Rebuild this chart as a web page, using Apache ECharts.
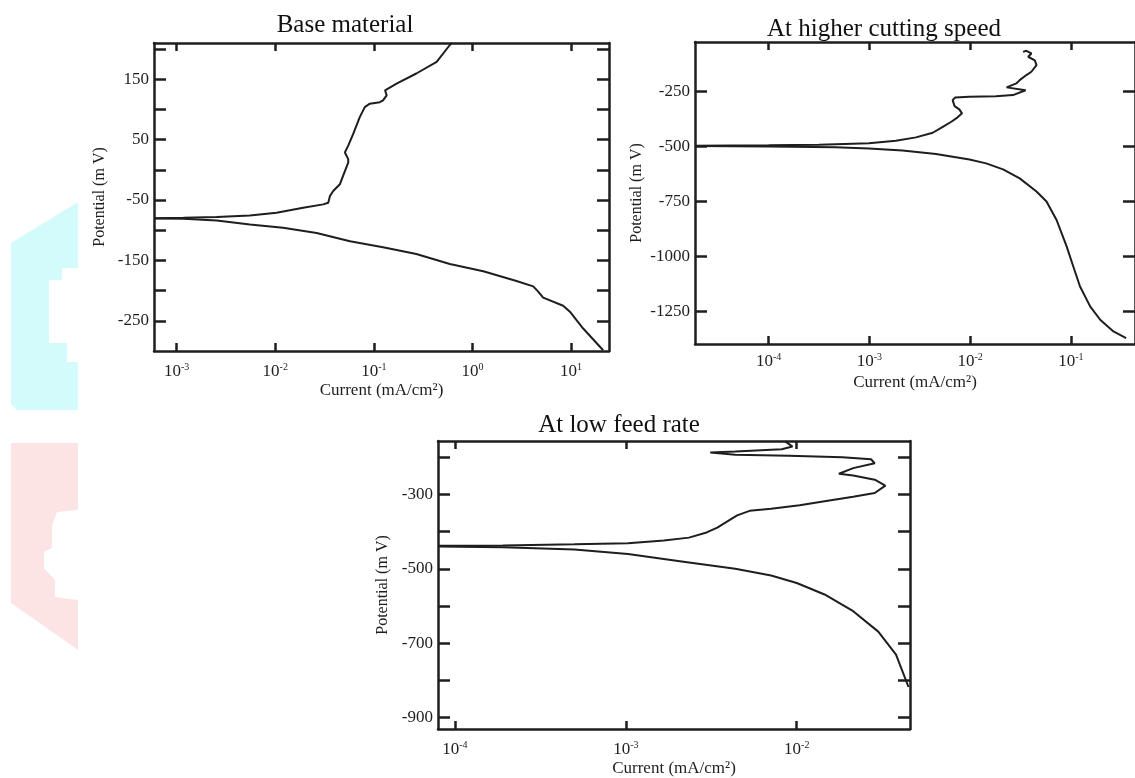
<!DOCTYPE html>
<html lang="en">
<head>
<meta charset="UTF-8"/>
<title>Polarization curves</title>
<script src="https://cdn.jsdelivr.net/npm/echarts@6/dist/echarts.min.js"></script>
<style>
  html, body { margin: 0; padding: 0; background: #fff; }
  #main { width: 1135px; height: 778px; }
</style>
</head>
<body>
<div id="main"></div>
<script>
// ---- data: [current (mA/cm2), potential (mV)] ----
var baseAnodic = [
  [0.00059, -80], [0.00117, -79.5], [0.00255, -78.3], [0.00553, -75.5], [0.0103, -71.2],
  [0.0192, -62.8], [0.0307, -57.2], [0.0345, -54.5], [0.0359, -43.3], [0.0387, -35],
  [0.0453, -23.8], [0.051, -1.7], [0.055, 12], [0.055, 17.8], [0.0509, 28.8],
  [0.055, 40], [0.0618, 59.5], [0.072, 87.2], [0.081, 103.8], [0.091, 109.5],
  [0.115, 112], [0.124, 115], [0.135, 123.3], [0.13, 131.7], [0.17, 142.8],
  [0.27, 159.5], [0.434, 178.8], [0.59, 206.7], [0.62, 210]
];
var baseCathodic = [
  [0.00059, -80.5], [0.00117, -81], [0.00255, -83.9], [0.00553, -90.5], [0.012, -96],
  [0.0263, -104.5], [0.0573, -118.3], [0.124, -128.3], [0.27, -139.5], [0.59, -156],
  [1.29, -168], [2.8, -184], [4.14, -193], [4.65, -201.7], [5.22, -211.7],
  [8.33, -225], [9.75, -235], [13.3, -262.8], [21.2, -298.8]
];
var speedAnodic = [
  [1.86e-5, -498], [1e-4, -496], [3.15e-4, -493], [9.9e-4, -487], [1.83e-3, -475],
  [2.9e-3, -460], [4.25e-3, -439], [5.35e-3, -412], [6.5e-3, -389], [7.5e-3, -369],
  [8.3e-3, -351], [7.8e-3, -333], [7e-3, -318], [6.7e-3, -291], [7.1e-3, -279],
  [9.8e-3, -276], [0.018, -273], [0.0266, -268], [0.0355, -246], [0.023, -233],
  [0.0287, -215], [0.031, -200], [0.0361, -177], [0.0405, -162], [0.0455, -132],
  [0.0438, -110], [0.0376, -94], [0.0405, -79], [0.0361, -67], [0.0335, -72]
];
var speedCathodic = [
  [1.86e-5, -499], [1e-4, -501], [4.6e-4, -505], [9.9e-4, -511], [2.13e-3, -520],
  [4.58e-3, -535], [9.85e-3, -560], [0.0144, -578], [0.0212, -605], [0.031, -646],
  [0.0455, -706], [0.0572, -751], [0.072, -835], [0.0906, -955], [0.1055, -1046],
  [0.123, -1137], [0.155, -1227], [0.195, -1288], [0.264, -1341], [0.353, -1371]
];
var feedAnodic = [
  [7.96e-5, -438], [1.91e-4, -437], [5.0e-4, -434], [1.03e-3, -431], [1.67e-3, -424],
  [2.34e-3, -416], [2.97e-3, -402], [3.43e-3, -389], [3.97e-3, -371], [4.48e-3, -356],
  [5.3e-3, -344], [7.08e-3, -338], [0.0104, -329], [0.01455, -318], [0.0214, -306],
  [0.0286, -296], [0.033, -276], [0.0286, -260], [0.0214, -249], [0.01765, -244],
  [0.0214, -229], [0.0286, -216], [0.0272, -205], [0.0185, -200], [0.009, -196],
  [4.37e-3, -193], [3.12e-3, -187], [4.37e-3, -184], [8.17e-3, -178], [9.44e-3, -171],
  [8.57e-3, -157]
];
var feedCathodic = [
  [7.96e-5, -440], [1.91e-4, -442], [5.0e-4, -448], [1.03e-3, -460], [2.12e-3, -480],
  [4.37e-3, -500], [7.08e-3, -518], [0.01, -538], [0.01455, -569], [0.0214, -614],
  [0.03, -669], [0.0381, -731], [0.0451, -818]
];

// ---- axes ----
var baseXTicks = [1e-3, 1e-2, 1e-1, 1, 10];
var baseYTicks = [-250, -200, -150, -100, -50, 0, 50, 100, 150, 200];
var baseYLabels = [-250, -150, -50, 50, 150];
var speedXTicks = [1e-4, 1e-3, 1e-2, 1e-1];
var speedYTicks = [-1250, -1000, -750, -500, -250];
var feedXTicks = [1e-4, 1e-3, 1e-2];
var feedYTicks = [-900, -800, -700, -600, -500, -400, -300, -200];
var feedYLabels = [-900, -700, -500, -300];

var FONT = "'Liberation Serif', 'Times New Roman', serif";
var INK = '#1e1e1e';

function pow10Label(v) {
  var e = Math.round(Math.log10(v));
  return '{b|10}{s|' + e + '}';
}

var panels = [
  { grid: { left: 154, top: 43, width: 455, height: 308 },
    x: [5.89e-4, 24.3], y: [-300, 210], xTicks: baseXTicks, yTicks: baseYTicks, yLabels: baseYLabels,
    xMargin: 11, yGap: 46, xGap: 31, series: [baseAnodic, baseCathodic] },
  { grid: { left: 695, top: 42, width: 448, height: 302 },
    x: [1.86e-5, 0.432], y: [-1398, -27], xTicks: speedXTicks, yTicks: speedYTicks, yLabels: speedYTicks,
    xMargin: 8, yGap: 50, xGap: 30, series: [speedAnodic, speedCathodic] },
  { grid: { left: 438, top: 441, width: 472, height: 291 },
    x: [7.96e-5, 0.046], y: [-931, -156], xTicks: feedXTicks, yTicks: feedYTicks, yLabels: feedYLabels,
    xMargin: 11, yGap: 47, xGap: 31, series: [feedAnodic, feedCathodic] }
];

var grids = [], xAxes = [], yAxes = [], series = [];
panels.forEach(function (p, i) {
  grids.push(p.grid);
  var line = { show: true, onZero: false, lineStyle: { color: INK, width: 2.5 } };
  // bottom + top x axes
  [['bottom', true], ['top', false]].forEach(function (a) {
    xAxes.push({
      type: 'log', logBase: 10, gridIndex: i, position: a[0],
      min: p.x[0], max: p.x[1],
      name: a[1] ? 'Current (mA/cm\u00b2)' : '', nameLocation: 'middle', nameGap: p.xGap,
      nameTextStyle: { fontFamily: FONT, fontSize: 17, color: INK },
      axisLine: line, splitLine: { show: false }, minorTick: { show: false },
      axisTick: { show: true, inside: true, length: 8, customValues: p.xTicks, lineStyle: { color: INK, width: 2.5 } },
      axisLabel: {
        show: a[1], margin: p.xMargin, customValues: p.xTicks, formatter: pow10Label,
        rich: {
          b: { fontFamily: FONT, fontSize: 17, color: INK, lineHeight: 20 },
          s: { fontFamily: FONT, fontSize: 10, color: INK, lineHeight: 10, verticalAlign: 'top' }
        }
      }
    });
  });
  // left + right y axes
  [['left', true], ['right', false]].forEach(function (a) {
    yAxes.push({
      type: 'value', gridIndex: i, position: a[0],
      min: p.y[0], max: p.y[1],
      name: a[1] ? 'Potential (m V)' : '', nameLocation: 'middle', nameGap: p.yGap,
      nameTextStyle: { fontFamily: FONT, fontSize: 16, color: INK },
      axisLine: line, splitLine: { show: false },
      axisTick: { show: true, inside: true, length: 12, customValues: p.yTicks, lineStyle: { color: INK, width: 2.5 } },
      axisLabel: {
        show: a[1], margin: 5, customValues: p.yLabels,
        formatter: function (v) { return String(v); },
        fontFamily: FONT, fontSize: 17, color: INK
      }
    });
  });
  p.series.forEach(function (d) {
    series.push({
      type: 'line', xAxisIndex: 2 * i, yAxisIndex: 2 * i, data: d,
      showSymbol: false, smooth: false, clip: true,
      lineStyle: { color: INK, width: 2 }
    });
  });
});

var titleStyle = { font: '25px ' + FONT, fill: '#111', align: 'center', verticalAlign: 'middle' };
function titleText(text, x, y) {
  return { type: 'text', x: x, y: y, z: 10, style: Object.assign({ text: text }, titleStyle) };
}

var chart = echarts.init(document.getElementById('main'));
chart.setOption({
  animation: false,
  backgroundColor: '#ffffff',
  grid: grids,
  xAxis: xAxes,
  yAxis: yAxes,
  series: series,
  graphic: [
    // faint background logo pieces
    { type: 'polygon', z: -1, silent: true, shape: { points: [[11,243],[78,202],[78,268],[62,268],[62,280],[49,280],[49,343],[67,343],[67,362],[78,362],[78,410],[17,410],[11,404]] }, style: { fill: '#d4fbfb' } },
    { type: 'polygon', z: -1, silent: true, shape: { points: [[11,443],[78,443],[78,510],[57,512],[52,525],[52,548],[44,552],[44,568],[55,580],[55,597],[78,600],[78,650],[11,603]] }, style: { fill: '#fde4e4' } },
    titleText('Base material', 345, 25),
    titleText('At higher cutting speed', 884, 29),
    titleText('At low feed rate', 619, 425)
  ]
});
</script>
</body>
</html>
